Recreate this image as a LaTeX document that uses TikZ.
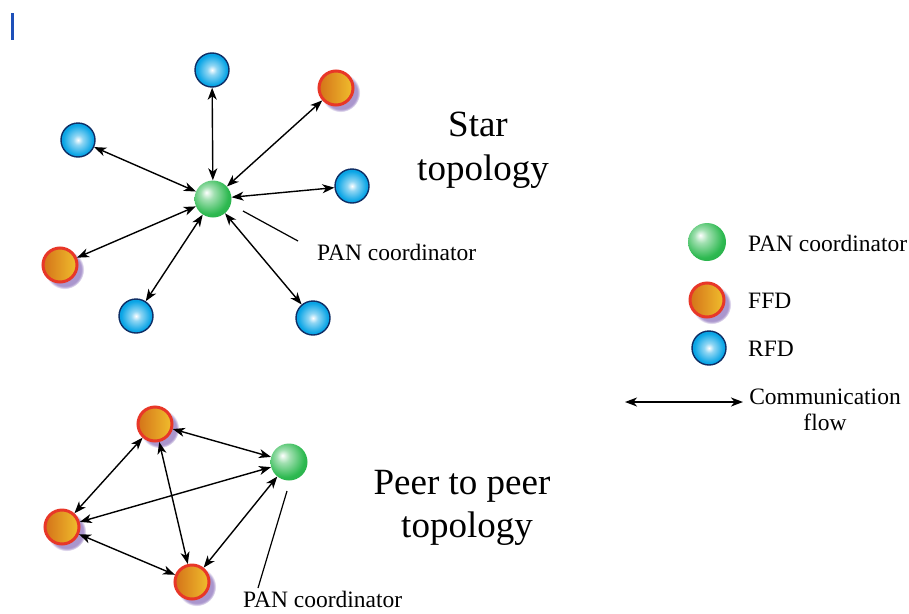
\documentclass[tikz,border=0pt]{standalone}
\usepackage{fontspec}
\setmainfont{Liberation Serif}
\usetikzlibrary{arrows.meta,shadows}
\definecolor{rfdblue}{RGB}{10,165,230}
\definecolor{rfdedge}{RGB}{15,45,100}
\definecolor{ffdred}{RGB}{232,55,40}
\definecolor{ffdorange}{RGB}{212,115,25}
\definecolor{ffdyellow}{RGB}{240,190,45}
\definecolor{pangreen}{RGB}{45,185,80}
\definecolor{shadelilac}{RGB}{170,150,205}
\definecolor{cursorblue}{RGB}{30,80,185}

% glossy spheres: highlight off-centre for the coordinator, centred for RFDs
\pgfdeclareradialshading{panball}{\pgfpoint{-9bp}{9bp}}{%
  color(0bp)=(white); color(9bp)=(pangreen!45!white); color(26bp)=(pangreen);
  color(62bp)=(pangreen!75!black)}
\pgfdeclareradialshading{rfdball}{\pgfpoint{0bp}{0bp}}{%
  color(0bp)=(white); color(7bp)=(rfdblue!45!white); color(22bp)=(rfdblue);
  color(50bp)=(rfdblue!80!black)}

\begin{document}
\begin{tikzpicture}[x=1pt,y=-1pt,
  rfd/.style={circle, minimum size=34pt, inner sep=0pt, shading=rfdball,
    draw=rfdedge, line width=1.4pt},
  ffd/.style={circle, minimum size=34pt, inner sep=0pt,
    left color=ffdorange, right color=ffdyellow, draw=ffdred, line width=3pt,
    circular drop shadow={fill=shadelilac, shadow xshift=4pt, shadow yshift=-4pt, shadow scale=1.15}},
  pan/.style={circle, minimum size=37pt, inner sep=0pt, shading=panball},
  tip/.tip={Stealth[length=12pt,width=9pt,inset=3.5pt]},
  flow/.style={tip-tip, line width=1.4pt},
  pointer/.style={line width=1.2pt},
  label/.style={font=\fontsize{23.5}{26}\selectfont, inner sep=0pt},
  title/.style={font=\fontsize{37}{44}\selectfont, inner sep=0pt, anchor=base},
]
\useasboundingbox (0,0) rectangle (909,613);

% text cursor mark in the corner
\fill[cursorblue] (11,13) rectangle (14,40);

% ---------- star topology ----------
\node[pan] (sc) at (213,199) {};
\node[rfd] (s1) at (212,70) {};
\node[ffd] (s2) at (336,88) {};
\node[rfd] (s3) at (78,140) {};
\node[rfd] (s4) at (352,186) {};
\node[ffd] (s5) at (60,265) {};
\node[rfd] (s6) at (136,316) {};
\node[rfd] (s7) at (313,318) {};
\foreach \n in {s1,s2,s3,s4,s5,s6,s7} \draw[flow] (sc) -- (\n);

\node[label, anchor=base west] (slabel) at (317,260) {PAN coordinator};
\coordinate (sptrA) at (298,241);
\coordinate (sptrB) at (243,211);
\draw[pointer] (sptrA) -- (sptrB);

\node[title] (st1) at (478,136) {Star};
\node[title] (st2) at (483,180) {topology};

% ---------- peer to peer topology ----------
\node[ffd] (pa) at (155,424) {};
\node[pan] (pc) at (289,462) {};
\node[ffd] (pb) at (62,527) {};
\node[ffd] (pd) at (192,582) {};
\draw[flow] (pa) -- (pc);
\draw[flow] (pa) -- (pb);
\draw[flow] (pa) -- (pd);
\draw[flow] (pb) -- (pc);
\draw[flow] (pb) -- (pd);
\draw[flow] (pd) -- (pc);

\coordinate (pptrA) at (287,491);
\coordinate (pptrB) at (258,588);
\draw[pointer] (pptrA) -- (pptrB);
\node[label, anchor=base west] (plabel) at (243,607) {PAN coordinator};

\node[title] (pt1) at (462,494) {Peer to peer};
\node[title] (pt2) at (467,537) {topology};

% ---------- legend ----------
\node[pan, minimum size=38pt] (lpan) at (707,242) {};
\node[label, anchor=base west] (lpant) at (748,251) {PAN coordinator};
\node[ffd] (lffd) at (707,300) {};
\node[label, anchor=base west] (lffdt) at (748,308) {FFD};
\node[rfd] (lrfd) at (709,348) {};
\node[label, anchor=base west] (lrfdt) at (748,356) {RFD};
\coordinate (lflowA) at (625,402);
\coordinate (lflowB) at (743,402);
\draw[flow] (lflowA) -- (lflowB);
\node[label, align=center, anchor=north] (lflowt) at (825,389) {Communication\\flow};
\end{tikzpicture}
\end{document}
